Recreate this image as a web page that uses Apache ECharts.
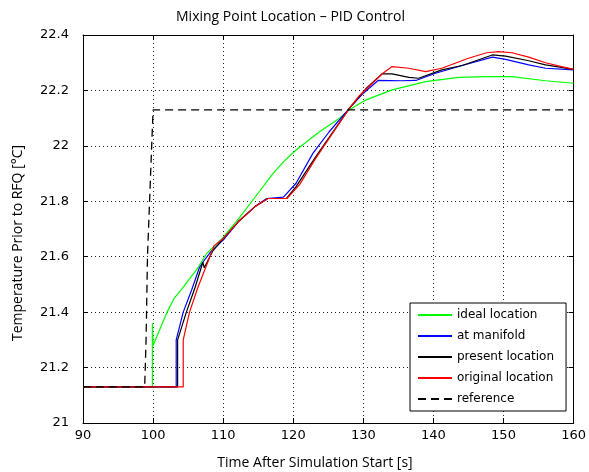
<!DOCTYPE html>
<html>
<head>
<meta charset="utf-8">
<script src="https://cdn.jsdelivr.net/npm/echarts@6/dist/echarts.min.js"></script>
<style>
  html, body { margin: 0; padding: 0; background: #fff; }
  #chart { width: 589px; height: 472px; }
</style>
</head>
<body>
<div id="chart"></div>
<script>
// values
const idealX = [90, 99.9, 99.9, 100, 101, 102, 103, 104, 105.2, 106.4, 107.6, 110, 112.3, 114.7, 117.1, 118.7, 120.4, 123.7, 126.6, 128, 130.4, 134.1, 138.9, 143.6, 147.6, 151.2, 156, 160];
const idealY = [21.13, 21.13, 21.36, 21.28, 21.34, 21.40, 21.45, 21.48, 21.52, 21.56, 21.61, 21.67, 21.74, 21.82, 21.9, 21.945, 21.985, 22.05, 22.10, 22.13, 22.166, 22.202, 22.232, 22.247, 22.25, 22.25, 22.235, 22.226];

const manifoldX = [90, 103.3, 103.3, 104.3, 105.5, 106.6, 107.1, 108.3, 110, 112.3, 114.5, 116.2, 118.6, 120.4, 122.8, 125.1, 128, 130, 132.1, 135.4, 137.5, 140.3, 144.1, 148.4, 150.3, 153.6, 156, 160];
const manifoldY = [21.13, 21.13, 21.30, 21.40, 21.48, 21.56, 21.58, 21.62, 21.66, 21.73, 21.78, 21.81, 21.815, 21.865, 21.973, 22.05, 22.135, 22.19, 22.236, 22.235, 22.236, 22.262, 22.29, 22.32, 22.312, 22.292, 22.28, 22.274];

const presentX = [90, 103.5, 103.5, 104.75, 106, 107.1, 107.3, 108.5, 110, 112.3, 114.5, 116.4, 119, 120.4, 123.2, 125.1, 128, 130.5, 132.7, 134.1, 136.5, 137.9, 141.2, 144.1, 148.4, 150.3, 153.6, 156, 160];
const presentY = [21.13, 21.13, 21.30, 21.40, 21.49, 21.58, 21.56, 21.62, 21.665, 21.73, 21.78, 21.81, 21.81, 21.853, 21.96, 22.03, 22.135, 22.21, 22.26, 22.26, 22.247, 22.244, 22.274, 22.29, 22.328, 22.324, 22.307, 22.292, 22.276];

const originalX = [90, 104.3, 104.3, 105.2, 106.4, 107.8, 108.7, 110, 112.3, 114.5, 116.4, 119.1, 120.9, 123.2, 125.6, 128, 129.4, 132.7, 134.1, 136.5, 138.9, 141.2, 145, 147.6, 149.3, 151.2, 153.6, 156, 158.3, 160];
const originalY = [21.13, 21.13, 21.30, 21.40, 21.49, 21.58, 21.64, 21.665, 21.73, 21.78, 21.81, 21.81, 21.86, 21.955, 22.045, 22.135, 22.18, 22.26, 22.286, 22.28, 22.268, 22.28, 22.316, 22.336, 22.34, 22.336, 22.32, 22.30, 22.286, 22.276];

const referenceX = [90, 98.8, 99, 99.2, 99.5, 99.8, 100, 160];
const referenceY = [21.13, 21.13, 21.3, 21.6, 21.8, 22.0, 22.13, 22.13];

const seriesNames = ['ideal location', 'at manifold', 'present location', 'original location', 'reference'];

const zip = (xs, ys) => xs.map((x, i) => [x, ys[i]]);

const chart = echarts.init(document.getElementById('chart'));

const tickFont = { fontFamily: 'DejaVu Sans', fontSize: 13, color: '#000' };

const lineSeries = (name, xs, ys, color, type) => ({
  name: name,
  type: 'line',
  data: zip(xs, ys),
  symbol: 'none',
  animation: false,
  lineStyle: { color: color, width: type ? 1.3 : 1.2, type: type || 'solid' },
  itemStyle: { color: color }
});

const option = {
  backgroundColor: '#fff',
  title: {
    text: 'Mixing Point Location \u2013 PID Control',
    left: 171,
    top: 5,
    textStyle: { fontFamily: 'Open Sans', fontSize: 14, fontWeight: 'normal', color: '#000' }
  },
  grid: { left: 83, right: 14, top: 35, bottom: 49 },
  legend: {
    orient: 'vertical',
    left: 410,
    top: 303,
    padding: [5, 12, 5, 7],
    itemWidth: 34,
    itemHeight: 14,
    itemGap: 7,
    itemTextGap: 4,
    backgroundColor: '#fff',
    borderColor: '#000',
    borderWidth: 1,
    borderRadius: 0,
    itemStyle: { opacity: 0 },
    textStyle: { fontFamily: 'DejaVu Sans', fontSize: 12, color: '#000', lineHeight: 14 },
    data: seriesNames
  },
  xAxis: [
    {
      type: 'value', min: 90, max: 160, interval: 10,
      axisLine: { lineStyle: { color: '#000', width: 1 } },
      axisTick: { inside: true, length: 5, lineStyle: { color: '#000' } },
      axisLabel: Object.assign({ margin: 6 }, tickFont),
      splitLine: { show: true, lineStyle: { color: '#222', type: [1, 3], width: 1 } }
    },
    {
      type: 'value', min: 90, max: 160, interval: 10, position: 'top',
      axisLine: { lineStyle: { color: '#000', width: 1 } },
      axisTick: { inside: true, length: 5, lineStyle: { color: '#000' } },
      axisLabel: { show: false },
      splitLine: { show: false }
    }
  ],
  yAxis: [
    {
      type: 'value', min: 21, max: 22.4, interval: 0.2,
      axisLine: { show: true, lineStyle: { color: '#000', width: 1 } },
      axisTick: { show: true, inside: true, length: 5, lineStyle: { color: '#000' } },
      axisLabel: Object.assign({ margin: 14, formatter: v => String(+v.toFixed(1)) }, tickFont),
      splitLine: { show: true, lineStyle: { color: '#222', type: [1, 3], width: 1 } }
    },
    {
      type: 'value', min: 21, max: 22.4, interval: 0.2, position: 'right',
      axisLine: { show: true, lineStyle: { color: '#000', width: 1 } },
      axisTick: { show: true, inside: true, length: 5, lineStyle: { color: '#000' } },
      axisLabel: { show: false },
      splitLine: { show: false }
    }
  ],
  graphic: [
    {
      type: 'text', x: 18, y: 243, rotation: Math.PI / 2,
      style: {
        text: 'Temperature Prior to RFQ [\u00b0C]',
        fontFamily: 'Open Sans', fontSize: 14, fill: '#000',
        textAlign: 'center', textVerticalAlign: 'middle'
      }
    },
    {
      type: 'text', x: 315, y: 463,
      style: {
        text: 'Time After Simulation Start [s]',
        fontFamily: 'Open Sans', fontSize: 14, fill: '#000',
        textAlign: 'center', textVerticalAlign: 'middle'
      }
    }
  ],
  series: [
    lineSeries(seriesNames[0], idealX, idealY, '#00ff00'),
    lineSeries(seriesNames[1], manifoldX, manifoldY, '#0000ff'),
    lineSeries(seriesNames[2], presentX, presentY, '#000000'),
    lineSeries(seriesNames[3], originalX, originalY, '#ff0000'),
    lineSeries(seriesNames[4], referenceX, referenceY, '#000000', [8, 5])
  ]
};

chart.setOption(option);
</script>
</body>
</html>
